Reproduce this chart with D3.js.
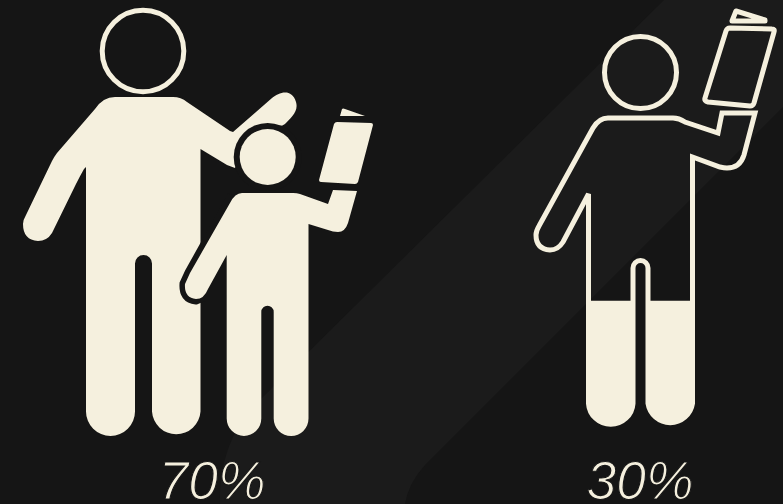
<!DOCTYPE html>
<html>
<head>
<meta charset="utf-8">
<script src="https://cdn.jsdelivr.net/npm/d3@7/dist/d3.min.js"></script>
<style>
html,body{margin:0;padding:0;background:#151515;overflow:hidden}
svg{display:block}
</style>
</head>
<body>
<svg id="chart" width="783" height="504"></svg>
<script>
// Shares shown by the two pictograms
const groups = ["adult with child", "child alone"];
const shares = [70, 30];

const paper = "#151515";
const band = "#1b1b1b";
const cream = "#f5f0de";

const width = 783, height = 504;

// Artboard centre of each pictogram; the glyphs below are drawn around these
const artboardCentre = [212, 640];

// Level scales: share -> height of the fill line on each glyph
const levelRanges = [[436, -58], [428, 4]];
const levels = levelRanges.map(r => d3.scaleLinear().domain([0, 100]).range(r));
const x = d3.scalePoint().domain(groups).range(artboardCentre);

// Pictogram glyphs
const adultBody = "M115,97 L173,97 Q181,97 187,102 L230,131 L233,132 L272,98 C279,92 292,88 296,102 C299,112 290,118 285,124 Q280,128 272,124 L250,140 L235,168 L227,165 L200.5,149 L200.5,411.5 A24.3,24.3 0 0 1 152,411.5 L152,263.5 A8.5,8.5 0 0 0 135,263.5 L135,411.5 A24.5,24.5 0 0 1 86,411.5 L86,167 L84,169 Q80,176 76,184 L52,233 Q47,241 38,241 Q23,240 23,224 Q23,220 26,215 L52,161 Q54,157 57,153 L95,109 Q103,97 115,97 Z";
const childBody = "M242,193 L293,193 Q297,193 300,194 L328,204 L333,190 L357,191 L348,223 Q345,232 338,232 Q333,232 328,230 L308.5,224 L308.5,418.6 A17.4,17.4 0 0 1 273.7,418.6 L273.7,312 A6,6 0 0 0 261.3,312 L261.3,418.6 A17.3,17.3 0 0 1 226.7,418.6 L226.7,255 L208,289 Q204,299 196,299 Q184,298 185,284 L190,273 L230,203 Q235,193 242,193 Z";
const childArmEdge = "M233,196 L190,273 L185,284 Q184,298 196,299 L203,296";
const bookCover = "M337,122 L371,123 Q373,123 373,125 L358,182 Q357,184 355,184 L321,182 Q319,182 319,180 L334,124 Q335,122 337,122 Z";
const bookPages = "M340,116 L342,109 Q343,108 345,109 L365,116 Z";

const soloBody = "M608,118 L673,118 Q679,118 685,122 L718,133 L722,113 L755,113 L744,155 Q740,168 727,168 Q724,168 720,167 L692.5,157 L692.5,403.5 A22.5,22.5 0 0 1 648,403.5 L648,268 A7.5,7.5 0 0 0 633,268 L633,403.5 A22.3,22.3 0 0 1 588.5,403.5 L588.5,194 L563,242 Q558,250 550,250 Q536,249 536,235 Q536,231 539,226 L577,157 L593,128 Q599,118 608,118 Z";
const soloCover = "M730,28 L772,29 Q775,29 774,32 L754,103 Q753,106 750,106 L708,102 Q704,101 705,98 L726,31 Q727,28 730,28 Z";
const soloPages = "M732,21 L736,11 L765,20 L765,21 Z";

const svg = d3.select("#chart");

// Background with its lighter diagonal band
svg.append("rect").attr("width", width).attr("height", height).attr("fill", paper);
const bandShape = d3.path();
bandShape.moveTo(664, 0);
bandShape.lineTo(783, 0);
bandShape.lineTo(783, 107);
bandShape.lineTo(425, 465);
bandShape.quadraticCurveTo(408, 484, 405, 504);
bandShape.lineTo(220, 504);
bandShape.bezierCurveTo(219, 470, 228, 430, 260, 400);
bandShape.closePath();
svg.append("path").attr("d", bandShape.toString()).attr("fill", band);

const defs = svg.append("defs");

function addFigure(i) {
  const name = groups[i];
  const level = levels[i](shares[i]);
  const dx = x(name) - artboardCentre[i];
  const g = svg.append("g").attr("transform", `translate(${dx},0)`);

  // Clip that keeps the fill below the level for this share
  const clipId = `level-${i}`;
  defs.append("clipPath").attr("id", clipId)
    .append("rect")
    .attr("x", 0).attr("width", width)
    .attr("y", level).attr("height", height - level);
  return { g, clip: `url(#${clipId})` };
}

// Adult with child: solid silhouettes, the child cut out of the adult by a dark edge
{
  const { g, clip } = addFigure(0);
  g.append("circle").attr("cx", 143).attr("cy", 51).attr("r", 40.8)
    .attr("fill", "none").attr("stroke", cream).attr("stroke-width", 5);
  g.append("path").attr("d", adultBody).attr("fill", cream).attr("clip-path", clip);
  g.append("circle").attr("cx", 267.7).attr("cy", 157).attr("r", 34).attr("fill", paper);
  g.append("path").attr("d", childArmEdge).attr("fill", "none")
    .attr("stroke", paper).attr("stroke-width", 11).attr("stroke-linecap", "butt");
  const solid = g.append("g").attr("fill", cream).attr("clip-path", clip);
  solid.append("circle").attr("cx", 267.7).attr("cy", 157).attr("r", 28);
  solid.append("path").attr("d", childBody);
  solid.append("path").attr("d", bookCover);
  solid.append("path").attr("d", bookPages);
}

// Child alone: outlined, filled from the feet up to the share
{
  const { g, clip } = addFigure(1);
  const outline = g.append("g").attr("fill", "none").attr("stroke", cream);
  outline.append("circle").attr("cx", 640.5).attr("cy", 72.5).attr("r", 36).attr("stroke-width", 5);
  outline.append("path").attr("d", soloBody).attr("stroke-width", 5)
    .attr("stroke-linejoin", "miter").attr("stroke-miterlimit", 3);
  outline.append("path").attr("d", soloCover).attr("stroke-width", 5).attr("stroke-linejoin", "round");
  outline.append("path").attr("d", soloPages).attr("stroke-width", 5).attr("stroke-linejoin", "round");
  g.append("path").attr("d", soloBody).attr("fill", cream).attr("clip-path", clip);
}

// Share labels, thinned with a hairline in the ground colour
svg.append("g").selectAll("text").data(groups).join("text")
  .attr("x", d => x(d))
  .attr("y", 499)
  .attr("text-anchor", "middle")
  .attr("fill", cream)
  .attr("font-family", "'Liberation Sans', sans-serif")
  .attr("font-style", "italic")
  .attr("font-size", 53.5)
  .attr("stroke", "#181818")
  .attr("stroke-width", 1.2)
  .text((d, i) => `${shares[i]}%`);
</script>
</body>
</html>
